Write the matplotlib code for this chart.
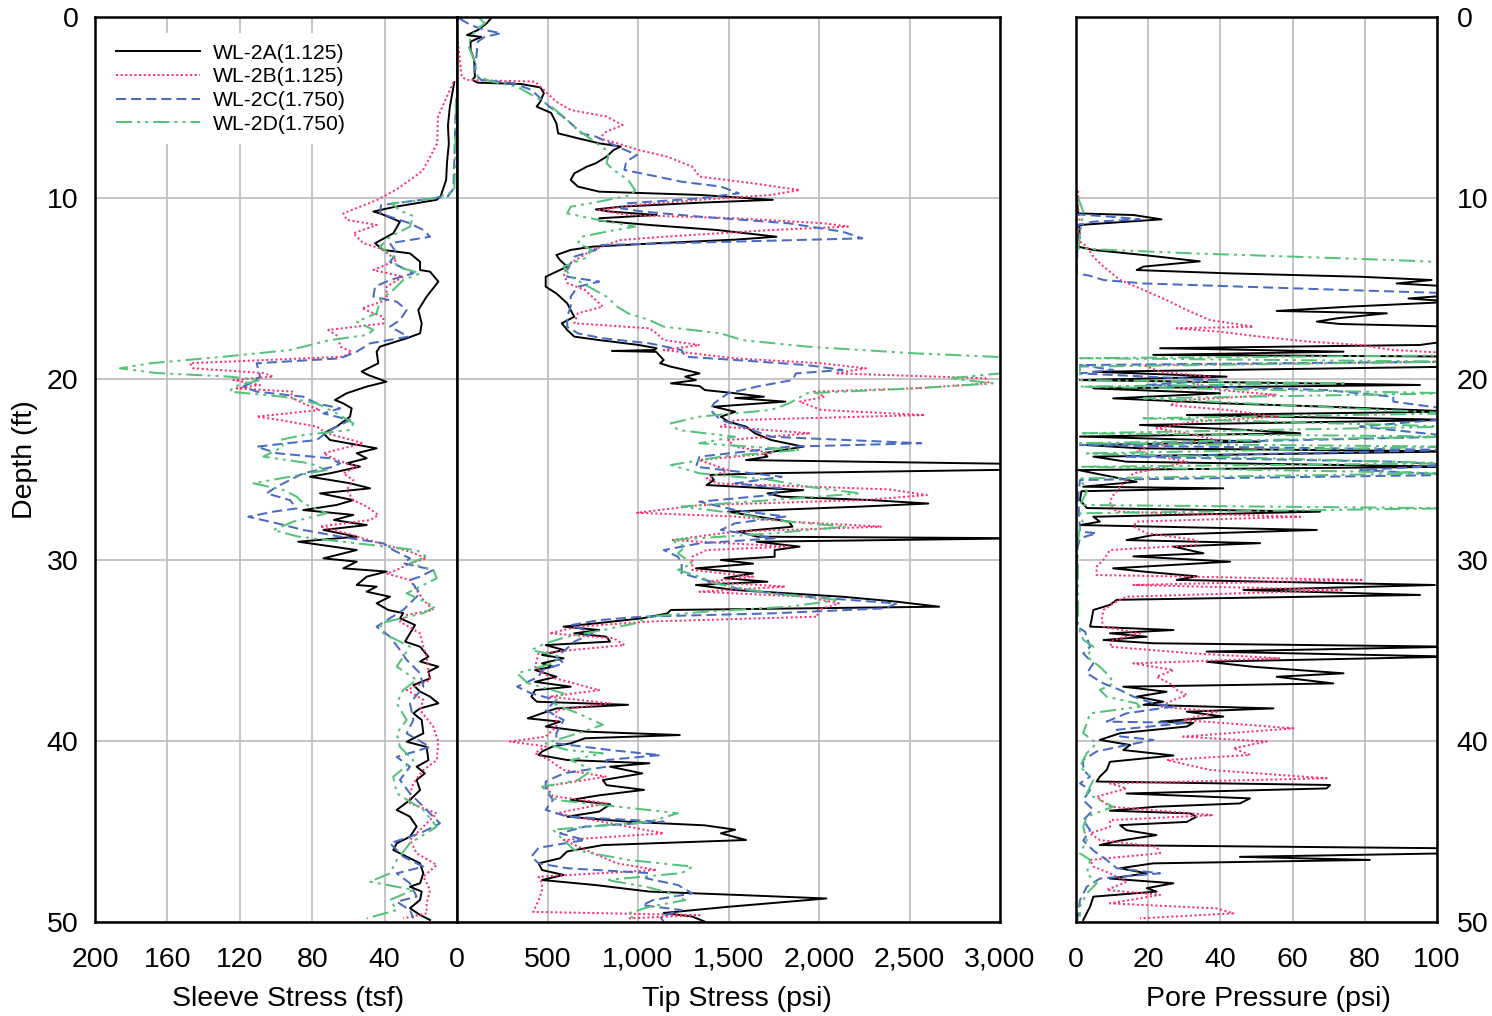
import matplotlib
matplotlib.use("Agg")
import matplotlib.pyplot as plt

plt.rcParams['font.family'] = ['Liberation Sans', 'DejaVu Sans']

series_names = ["WL-2A(1.125)", "WL-2B(1.125)", "WL-2C(1.750)", "WL-2D(1.750)"]

# ---------------- Sleeve stress (tsf): (depth ft, value) ----------------
sleeve_A = [(3.6,1.5),(5.0,4),(6.0,5),(7.0,4.5),(8.0,5.5),(9.0,6),(9.6,8),(9.9,9),(10.1,11.2),(10.5,35),(10.75,46.2),(10.85,42.5),(11.31,31.5),(11.95,35.2),(12.5,45.3),(12.87,40.7),(13.06,26),(13.52,20.4),(13.98,20.4),(14.07,14.9),(14.62,10.3),(15.45,16.8),(16.19,21.4),(16.93,19.5),(17.48,20.4),(17.75,27.8),(18.21,42.5),(18.49,44.4),(19.13,43.5),(19.59,52.7),(19.78,49),(20.15,39),(20.42,49.9),(20.79,61),(21.16,67.4),(21.35,62.8),(21.62,58.2),(22.08,59.1),(22.63,66.5),(23.0,73.8),(23.37,70.2),(23.83,44.4),(24.1,55.4),(24.38,49.9),(24.66,61),(24.84,53.6),(25.21,70.2),(25.4,81.2),(25.76,59.1),(26.04,48),(26.32,75.7),(26.69,57.3),(26.96,66.5),(27.24,84.9),(27.51,57.3),(27.79,68),(28.07,49.9),(28.34,73.8),(28.71,55.4),(28.99,87.7),(29.45,55.4),(29.91,73.8),(30.09,55.4),(30.46,62.8),(30.64,38.9),(30.92,49.9),(31.38,55.4),(31.47,44.4),(31.75,49.9),(32.03,37),(32.39,44.4),(32.76,38),(32.94,29.7),(33.22,31.5),(33.59,23.2),(34.51,28.7),(34.79,20.4),(35.34,15.8),(35.61,20.4),(35.89,10.3),(36.17,15.8),(36.54,14.9),(36.91,24.1),(37.27,20.4),(37.55,14.9),(37.92,10.3),(38.2,20.4),(38.47,24.1),(38.84,19.5),(39.58,18.6),(40.04,27.8),(40.33,16.8),(41.06,15.8),(41.42,22.3),(41.79,17.7),(42.15,22.3),(42.71,20.4),(43.26,26),(43.81,33.3),(44.18,26),(44.73,22.3),(45.29,26),(45.65,33.3),(46.02,35.2),(46.39,27.8),(46.76,20.4),(47.31,18.6),(47.86,20.4),(48.05,26),(48.32,19.5),(48.78,20.4),(49.24,26),(49.61,20.4),(49.89,14.9)]
sleeve_B = [(3.6,2),(5.5,10.5),(7.0,11),(8.5,19),(9.5,33),(10.1,44),(10.85,62.8),(11.2,61),(11.49,44.4),(11.95,57.3),(12.5,51.7),(12.78,42.5),(13.43,33.3),(13.98,46.2),(14.35,29.7),(14.9,38.9),(15.64,38.9),(16.1,52.7),(16.57,40.7),(16.93,40.7),(17.29,71.1),(17.66,65.5),(18.21,64.6),(18.49,58.2),(18.77,62.8),(19.13,147.5),(19.41,145.7),(19.67,107),(19.87,101.5),(20.06,123.6),(20.33,108.8),(20.52,121.7),(20.7,90.4),(20.98,92.3),(21.35,84.9),(21.71,75.7),(22.08,110.7),(22.27,97.8),(22.63,77.5),(23.0,72),(23.55,51.7),(24.1,73.8),(24.48,66.5),(24.84,55.4),(25.21,62.8),(25.58,57.3),(26.13,61),(26.69,57.3),(27.05,49.9),(27.51,43.5),(27.79,48),(28.15,75.7),(28.53,61),(29.08,42.5),(29.54,26),(29.91,16.8),(30.18,26),(30.55,33.3),(30.75,38.9),(31.1,26),(32.21,18.6),(32.76,13.1),(33.04,27.8),(33.41,31.5),(34.05,20.4),(34.79,18.6),(35.34,16.8),(36.08,15.8),(36.63,14.9),(37.18,27.8),(37.73,18.6),(38.29,20.4),(39.21,13.1),(40.04,10.3),(41.06,11.2),(41.6,18.6),(42.34,24.1),(42.89,26),(43.44,26),(44.0,11.2),(44.73,18.6),(45.47,26),(46.2,22.3),(46.85,11.2),(47.5,18.6),(48.23,14.9),(48.97,16.8),(49.52,16.8),(49.8,29.7)]
sleeve_C = [(4.5,0.5),(6,1),(8,1.5),(9.5,2),(9.9,5),(10.4,42),(10.85,42.5),(11.4,26),(11.77,18.6),(12.14,14.9),(12.5,37),(13.06,33.3),(13.52,37),(14.16,24.1),(14.53,37),(14.9,45.3),(15.45,46.2),(15.73,33.3),(16.19,27.8),(16.74,31.5),(17.11,37),(17.66,26.9),(18.03,48),(18.49,55.4),(18.86,64.6),(19.13,110.7),(19.87,108.8),(20.15,112.5),(20.42,118),(20.7,110.7),(20.98,84.9),(21.35,77.5),(21.62,64.6),(21.9,73.8),(22.27,59.1),(22.82,70.2),(23.37,77.5),(23.74,110.7),(24.1,99.6),(24.38,70.2),(24.66,64.6),(24.84,68),(25.21,84.9),(25.58,92.3),(25.95,99.6),(26.32,105.2),(26.69,92.3),(27.15,88.6),(27.33,101.5),(27.61,115.3),(27.97,99.6),(28.34,84.9),(28.71,64.6),(29.08,40.7),(29.45,35.2),(29.91,26),(30.18,29.7),(30.55,13.1),(30.92,20.4),(31.1,26),(31.84,20.4),(32.76,29.7),(33.68,44.4),(34.24,37),(34.97,31.5),(35.52,27.8),(36.26,20.4),(37.0,18.6),(37.92,26),(38.84,24.1),(39.58,27.8),(40.33,14.9),(40.88,33.3),(41.42,26),(42.15,31.5),(42.89,26),(44.0,14.9),(44.55,9.4),(45.1,20.4),(45.65,37),(46.39,29.7),(46.94,18.6),(47.31,33.3),(47.86,26),(48.6,22.3),(48.88,33.3),(49.34,26),(49.8,24.1)]
sleeve_D = [(4.5,0.5),(6,0.8),(8,1),(9.6,1.5),(10.0,11),(10.3,36),(10.7,31.5),(11.0,24.1),(11.58,26),(12.14,37),(12.69,42.5),(13.24,35.2),(13.79,33.3),(14.16,20.4),(14.53,29.7),(15.08,35.2),(15.64,42.5),(16.37,44.4),(16.83,55.4),(17.29,46.2),(17.57,49.9),(17.85,70.2),(18.4,92.3),(18.77,129.1),(19.13,169.6),(19.41,186.2),(19.67,166),(19.87,125.4),(20.06,108.8),(20.42,123.6),(20.7,125.4),(20.98,96),(21.35,77.5),(21.9,66.5),(22.45,57.3),(22.82,59.1),(23.09,84.9),(23.37,97.8),(23.74,96),(24.29,107),(24.66,81.2),(25.03,72),(25.4,92.3),(25.76,112.5),(26.13,96),(26.5,88.6),(26.87,84.9),(27.42,72),(27.88,90.4),(28.34,101.5),(28.71,87.7),(29.08,55.4),(29.45,22.3),(29.82,16.8),(30.18,26),(30.55,13.1),(31.01,11.2),(31.84,27.8),(32.58,12.2),(32.94,18.6),(33.5,42.5),(34.05,40.7),(34.79,26),(35.89,33.3),(36.63,22.3),(37.18,29.7),(37.92,33.3),(38.84,27.8),(39.58,33.3),(40.33,31.5),(41.06,24.1),(41.97,35.2),(42.89,33.3),(43.81,18.6),(44.73,11.2),(45.65,26),(46.57,33.3),(47.31,37),(47.77,48),(48.23,24.1),(48.78,37),(49.34,33.3),(49.8,49.9)]

# ---------------- Tip stress (psi): (depth ft, value) ----------------
tip_A = [(0.05,190),(0.35,164),(0.72,115),(1.0,55),(1.1,134),(1.36,75),(1.82,75),(2.38,95),(3.3,99),(3.48,85),(3.63,115),(3.7,352),(3.89,460),(4.2,480),(4.68,460),(4.95,440),(5.3,520),(5.87,549),(6.43,559),(6.7,668),(6.98,786),(7.16,905),(7.35,865),(7.72,826),(8.08,767),(8.27,717),(8.64,648),(9.0,628),(9.37,668),(9.65,786),(9.83,1340),(10.1,1745),(10.26,1340),(10.48,905),(10.63,767),(10.75,846),(10.94,1103),(11.12,786),(11.25,786),(11.49,1063),(11.77,1439),(12.14,1765),(12.3,1537),(12.5,1103),(12.69,747),(12.87,628),(13.15,549),(13.43,569),(13.79,609),(14.16,530),(14.35,490),(14.9,490),(15.27,549),(15.82,609),(16.19,628),(16.56,648),(16.92,579),(17.29,609),(17.66,648),(17.85,786),(18.12,1004),(18.3,1103),(18.4,1090),(18.45,856),(18.5,1100),(18.95,1142),(19.13,1122),(19.32,1182),(19.5,1261),(19.69,1340),(19.87,1261),(20.06,1320),(20.24,1182),(20.39,1340),(20.61,1369),(20.79,1537),(20.98,1695),(21.05,1537),(21.25,1814),(21.53,1419),(21.81,1537),(22.08,1458),(22.36,1498),(22.63,1597),(23.0,1646),(23.37,1735),(23.74,1913),(24.1,1695),(24.29,1715),(24.48,1597),(24.7,3150),(25.0,3150),(25.2,1750),(25.3,1399),(25.58,1419),(25.86,1379),(26.14,1913),(26.32,1715),(26.5,1794),(26.69,2288),(26.88,2604),(27.05,2229),(27.33,1498),(27.6,1656),(27.88,1834),(28.16,1853),(28.43,1557),(28.71,1656),(28.8,3150),(28.99,1656),(29.26,1893),(29.45,1755),(29.82,1755),(30.0,1458),(30.2,1636),(30.46,1320),(30.74,1636),(31.0,1478),(31.2,1715),(31.38,1320),(31.66,1537),(32.03,2130),(32.3,2427),(32.58,2664),(32.76,1182),(32.95,1162),(33.22,1024),(33.5,767),(33.68,589),(33.87,786),(34.05,648),(34.24,826),(34.51,846),(34.7,490),(34.97,589),(35.25,470),(35.43,589),(35.71,470),(35.9,530),(36.08,431),(36.45,549),(36.73,431),(37.0,628),(37.19,431),(37.55,411),(37.83,441),(38.0,945),(38.2,549),(38.47,470),(38.75,391),(38.93,569),(39.2,490),(39.48,707),(39.67,1231),(39.85,707),(40.13,628),(40.3,530),(40.58,470),(40.77,451),(41.05,609),(41.23,1063),(41.42,846),(41.79,1024),(42.16,806),(42.44,826),(42.7,1033),(43.0,786),(43.26,628),(43.5,846),(43.9,786),(44.18,609),(44.46,945),(44.66,1369),(44.9,1537),(45.1,1458),(45.47,1597),(45.75,806),(46.1,609),(46.48,569),(46.76,451),(47.13,470),(47.4,589),(47.68,470),(47.96,767),(48.32,1063),(48.5,1537),(48.7,2041),(49.16,1498),(49.5,1142),(49.7,1300),(49.98,1369)]
tip_B = [(0.1,6),(0.35,0),(1.5,6),(2.4,16),(3.3,26),(3.48,55),(3.57,431),(4.03,480),(4.68,549),(5.14,628),(5.5,826),(5.97,915),(6.33,826),(6.7,786),(6.98,885),(7.35,1004),(7.72,1162),(8.27,1300),(8.82,1340),(9.19,1636),(9.56,1893),(9.83,1735),(10.1,1340),(10.39,984),(10.66,786),(10.94,945),(11.12,1537),(11.4,2031),(11.58,2160),(11.77,1735),(12.14,1142),(12.32,905),(12.87,747),(13.6,628),(14.16,589),(14.7,609),(15.08,707),(15.64,767),(16.0,806),(16.37,668),(16.92,648),(17.2,1063),(17.48,1103),(17.85,1142),(18.12,1340),(18.4,1142),(18.49,1221),(18.86,1537),(19.13,2012),(19.41,2259),(19.69,2091),(19.96,2920),(20.24,2940),(20.52,2525),(20.7,1972),(20.98,2031),(21.25,1893),(21.71,2012),(21.99,2585),(22.27,1537),(22.63,1458),(23.0,1952),(23.37,1498),(23.74,1537),(24.1,1735),(24.48,1340),(25.04,1498),(25.5,1379),(25.77,1439),(26.1,2387),(26.41,2596),(26.69,2249),(26.97,1340),(27.39,994),(27.6,1537),(27.88,1834),(28.16,2347),(28.43,1537),(28.9,1182),(29.26,1834),(29.45,1379),(29.82,1300),(30.2,1300),(30.55,1300),(30.92,1636),(31.2,1379),(31.47,1814),(31.75,1340),(32.03,1933),(32.4,2110),(32.76,1992),(33.13,1992),(33.4,1063),(33.68,668),(34.05,510),(34.32,865),(34.7,925),(35.15,451),(35.9,431),(36.45,510),(37.19,786),(37.55,510),(37.92,846),(38.29,549),(39.2,549),(39.76,490),(40.03,292),(40.3,490),(40.67,431),(41.05,510),(41.6,589),(41.97,826),(42.5,490),(43.05,530),(43.44,826),(43.99,549),(44.36,747),(45.1,1142),(45.47,589),(46.0,707),(46.76,885),(47.13,1103),(47.5,451),(47.87,470),(48.23,470),(48.8,451),(49.44,421),(49.62,1340),(49.8,945)]
tip_C = [(0.1,16),(0.44,75),(0.72,154),(0.9,243),(1.09,154),(1.36,115),(2.38,105),(3.11,95),(3.48,134),(3.66,312),(4.03,411),(4.4,451),(4.95,510),(5.69,609),(6.43,688),(6.61,767),(7.16,885),(7.62,994),(7.99,935),(8.45,925),(8.73,1063),(9.1,1241),(9.37,1458),(9.74,1557),(10.02,1340),(10.29,945),(10.57,905),(10.75,1024),(11.03,1340),(11.4,1834),(11.86,2130),(12.23,2239),(12.41,1537),(12.6,786),(12.87,767),(13.24,648),(13.98,609),(14.35,609),(14.62,786),(14.9,668),(15.45,628),(16.0,628),(16.56,609),(17.11,609),(17.48,668),(17.75,806),(18.03,1063),(18.4,1241),(18.77,1261),(18.95,1537),(19.23,1933),(19.5,2130),(19.69,1873),(20.06,1853),(20.42,1656),(20.79,1498),(21.35,1419),(21.71,1399),(22.27,1458),(22.63,1577),(23.19,1735),(23.55,2565),(23.74,1834),(24.29,1340),(24.85,1320),(25.4,1794),(25.77,1537),(26.04,1794),(26.41,1735),(26.78,1340),(27.24,1537),(27.6,1814),(27.97,1537),(28.34,1458),(28.8,1755),(29.08,1340),(29.45,1142),(29.82,1221),(30.2,1241),(30.74,1241),(31.29,1439),(31.66,1577),(32.03,1933),(32.4,2427),(32.67,2367),(32.95,1735),(33.13,1024),(33.32,786),(33.6,628),(33.87,707),(34.05,747),(34.51,648),(34.88,609),(35.34,549),(35.71,589),(36.08,470),(36.45,451),(37.0,332),(37.37,411),(37.74,549),(38.29,490),(38.84,589),(39.57,549),(40.13,549),(40.5,846),(40.78,1122),(41.05,826),(41.42,826),(41.79,589),(42.24,490),(42.7,490),(43.26,530),(43.8,490),(44.18,609),(44.46,1142),(44.73,707),(45.1,569),(45.47,707),(45.9,451),(46.39,411),(46.76,451),(47.03,609),(47.3,1063),(47.58,1043),(47.96,1221),(48.42,1300),(48.79,1083),(49.07,1024),(49.34,1241),(49.7,1122),(49.98,1142)]
tip_D = [(0.07,124),(0.35,154),(0.63,115),(1.09,75),(1.64,65),(2.38,95),(3.3,115),(3.57,194),(3.85,332),(4.4,431),(4.95,520),(5.5,589),(6.24,668),(6.8,747),(7.35,826),(7.72,836),(8.08,826),(8.45,865),(9.0,945),(9.56,984),(9.83,964),(10.2,786),(10.48,628),(10.85,609),(11.22,786),(11.58,984),(11.86,826),(12.14,688),(12.5,668),(12.87,747),(13.33,707),(13.79,589),(14.35,628),(14.9,727),(15.45,826),(16.0,885),(16.37,945),(16.74,1063),(17.11,1142),(17.48,1458),(17.85,1577),(18.21,1933),(18.58,2525),(18.85,3150),(19.13,3150),(19.69,3000),(19.96,2723),(20.24,2960),(20.52,2525),(20.79,1933),(21.35,1834),(21.71,1735),(22.08,1340),(22.45,1182),(22.82,1221),(23.19,1537),(23.55,1340),(23.92,1893),(24.29,1458),(24.75,1182),(25.21,1340),(25.58,1735),(25.95,1933),(26.32,2229),(26.69,1735),(27.05,1241),(27.42,1537),(27.79,1735),(28.16,2150),(28.53,1735),(28.9,1182),(29.26,1261),(29.63,1221),(30.2,1300),(30.55,1221),(30.92,1340),(31.29,1419),(31.84,1735),(32.21,2110),(32.58,1834),(32.85,1379),(33.13,1063),(33.5,984),(33.87,806),(34.24,609),(34.6,490),(34.97,411),(35.34,569),(35.71,530),(36.26,332),(36.8,391),(37.37,589),(37.92,530),(38.47,668),(39.1,806),(39.57,668),(40.13,490),(40.5,609),(40.68,806),(41.05,628),(41.6,747),(42.16,668),(42.53,470),(43.26,549),(43.99,1221),(44.46,1063),(44.9,530),(45.47,589),(46.02,648),(46.57,945),(46.94,1300),(47.3,1241),(47.68,826),(48.05,1043),(48.42,1182),(48.79,1261),(49.16,1063),(49.53,945),(49.89,984)]

# ---------------- Pore pressure (psi): (depth ft, value) ----------------
pore_A = [(10.0,0.2),(10.85,0.6),(10.94,15.9),(11.18,23.7),(11.31,14),(11.49,1.1),(12.69,0.6),(12.87,4.8),(13.15,18.7),(13.5,34.3),(13.79,18.7),(13.98,16.8),(14.16,41.7),(14.35,78.7),(14.53,98.5),(14.72,88.8),(14.9,105),(15.36,105),(15.55,92.1),(15.73,105),(16.0,75.9),(16.24,55.6),(16.37,86.1),(16.65,72.2),(16.83,66.7),(16.96,73.1),(17.11,105),(17.85,105),(18.12,95.3),(18.3,23.3),(18.49,74.1),(18.67,21.4),(18.76,105),(19.32,105),(19.6,4.8),(19.87,41.7),(20.06,1.1),(20.33,95.3),(20.52,4.8),(20.79,39.9),(21.07,10.3),(21.34,39.9),(21.53,69.4),(21.8,105),(21.99,30.7),(22.26,105),(22.54,17.7),(22.82,47.3),(23.0,62.1),(23.18,1.1),(23.46,51),(23.65,3),(23.83,17.7),(24.0,105),(24.29,4.8),(24.57,14),(24.85,105),(25.03,0.6),(25.49,12.2),(25.68,16.8),(25.95,2),(26.04,40.8),(26.2,1.5),(26.68,1.1),(27.13,3),(27.33,67.6),(27.61,4.8),(27.88,6.6),(28.07,1.1),(28.34,66.7),(28.62,21.4),(28.9,14),(29.07,51),(29.26,27),(29.63,35.3),(29.8,15.9),(30.09,42.7),(30.46,10.3),(30.64,18.7),(30.9,33.4),(31.1,27.9),(31.38,99.4),(31.66,46.4),(31.93,95.3),(32.2,11.3),(32.48,9.4),(32.76,4.8),(33.3,4.3),(33.68,3.9),(33.87,27),(34.05,9.4),(34.24,19.6),(34.42,7.6),(34.6,21.4),(34.79,105),(35.06,36.2),(35.34,105),(35.62,36.2),(35.9,49.1),(36.26,74.1),(36.45,55.6),(36.82,71.3),(37.0,13.1),(37.28,25.1),(37.55,16.8),(37.83,24.2),(38.0,18.7),(38.2,54.7),(38.38,30.7),(38.65,40.8),(38.93,23.3),(39.0,32.5),(39.2,30.7),(39.57,12.2),(39.94,6.6),(40.22,15),(40.5,13.1),(40.8,27),(41.15,9.4),(41.6,8.5),(41.97,6.6),(42.24,5.7),(42.43,70.4),(42.62,69.4),(42.9,14),(43.17,48.2),(43.45,45.4),(43.63,22.3),(43.85,9.4),(44.0,31.6),(44.18,33.4),(44.47,30.7),(44.65,12.2),(44.93,14),(45.2,22.3),(45.5,12.2),(45.75,6.6),(45.93,105),(46.2,105),(46.4,45.4),(46.57,81.4),(46.76,21.4),(47.03,12.2),(47.31,19.6),(47.6,9.4),(47.86,27),(48.13,19.6),(48.32,22.3),(48.6,4.8),(49.15,3.9),(49.89,2)]
pore_B = [(9.6,0.6),(10.5,0.6),(11.5,1.1),(12.41,1.1),(12.69,3),(13.24,4.8),(13.79,7.6),(14.53,12.2),(15.08,18.7),(15.64,25.1),(16.19,30.7),(16.74,37.1),(17.11,49.1),(17.2,27.9),(17.39,39.9),(17.66,51),(17.94,64.8),(18.12,78.7),(18.4,87.9),(18.58,105),(19.04,105),(19.23,18.7),(19.6,23.3),(19.87,37.1),(20.24,32.5),(20.61,39.9),(20.88,55.6),(21.16,29.7),(21.44,26),(21.71,41.7),(22.08,55.6),(22.36,32.5),(22.72,22.3),(23.0,30.7),(23.37,39),(23.74,19.6),(24.0,16.8),(24.29,23.3),(24.57,30.7),(24.85,25.1),(25.21,15.9),(25.58,14),(25.95,12.2),(26.22,11.3),(26.5,9.9),(26.96,9.4),(27.33,11.3),(27.61,62.1),(27.88,16.8),(28.15,15.9),(28.52,19.6),(28.9,33.4),(29.17,33.4),(29.45,9.4),(30.0,7.6),(30.37,5.7),(30.83,5.7),(31.1,79.6),(31.38,15.9),(31.66,74.1),(32.03,14),(32.4,10.3),(32.76,7.6),(33.3,7.1),(33.68,7.6),(34.05,17.7),(34.42,10.3),(34.79,9.4),(35.16,32.5),(35.43,56.5),(35.71,15.9),(36.08,27),(36.45,22.3),(36.82,26),(37.18,27.9),(37.46,30.7),(37.74,27),(38.1,23.3),(38.38,39),(38.84,29.7),(39.3,60.2),(39.76,29.7),(40.03,52.8),(40.4,43.6),(40.77,48.2),(41.05,25.1),(41.6,37.1),(42.06,69.4),(42.34,9.4),(42.62,14),(43.08,5.7),(43.63,9.4),(44.1,38),(44.37,9.4),(44.74,9.4),(45.1,3.9),(45.47,6.6),(45.84,22.3),(46.2,23.3),(46.57,3.9),(46.94,4.8),(47.31,9.4),(47.78,14),(48.23,8.5),(48.5,23.3),(48.97,9.4),(49.25,39),(49.52,43.6),(49.8,17.7)]
pore_C = [(10.0,0.2),(10.9,0.2),(11.03,9.4),(11.18,17.7),(11.31,4.8),(11.49,0.6),(14.16,0.2),(14.3,3.9),(14.53,7.6),(14.72,18.7),(14.9,46.4),(15.08,74.1),(15.27,105),(18.9,105),(19.04,105),(19.23,1.1),(19.5,10.3),(19.69,1.1),(20.06,39.9),(20.33,19.6),(20.61,69.4),(20.98,87.9),(21.25,87.9),(21.71,105),(22.17,105),(22.63,78.7),(23.18,105),(23.65,1.1),(23.92,105),(24.29,14),(24.57,87.9),(24.75,105),(25.03,78.7),(25.3,105),(25.58,1.1),(26.5,0.6),(28.43,1.1),(28.52,5.7),(28.8,1.1),(29.5,0.2),(33.68,0.2),(33.96,2.5),(34.79,3.9),(35.16,2),(35.71,4.8),(36.26,3),(36.82,7.6),(37.18,12.2),(37.55,15.9),(37.92,21.4),(38.1,27),(38.47,14),(38.93,8.5),(39.0,30.7),(39.38,11.3),(39.75,12.2),(39.94,21.4),(40.3,12.2),(40.58,5.7),(41.05,2),(41.6,2),(41.97,3.9),(42.34,1.1),(42.71,3.9),(43.26,2),(43.81,4.8),(44.37,2),(44.93,3.9),(45.5,2),(46.05,4.8),(46.57,8.5),(47.03,11.3),(47.31,23.3),(47.6,6.6),(48.05,3),(48.78,1.1),(49.52,0.6),(49.95,0.3)]
pore_D = [(10.0,0.6),(10.75,2),(12.78,0.6),(12.87,9.4),(13.06,32.5),(13.24,60.2),(13.43,87.9),(13.57,105),(18.7,105),(18.85,1.1),(19.04,105),(19.32,1.1),(20.06,1.1),(20.24,75),(20.42,1.1),(20.79,105),(21.07,18.7),(21.9,105),(22.17,18.7),(22.63,105),(23.0,1.1),(23.18,105),(23.55,1.1),(23.74,105),(24.11,3),(24.66,105),(24.85,1.1),(25.21,105),(25.49,1.1),(26.22,3),(26.96,1.1),(27.14,105),(27.42,1.1),(27.97,2),(28.16,1.1),(29.0,0.5),(33.7,0.6),(34.4,2),(34.79,4.8),(35.34,3),(35.9,6.6),(36.45,9.4),(36.82,10.3),(37.18,6.6),(37.55,8.5),(37.92,16.8),(38.1,17.7),(38.47,3.9),(39.0,3),(39.57,2),(40.12,5.7),(40.67,3),(41.41,1.1),(42.15,4.8),(42.9,3),(43.63,10.3),(44.18,3),(44.74,2),(45.5,3),(46.2,1.1),(46.57,3.9),(47.31,3),(47.86,5.7),(48.42,3),(49.15,1.1),(49.7,1.1)]

depth_ticks = [0, 10, 20, 30, 40, 50]
sleeve_ticks = [200, 160, 120, 80, 40, 0]
tip_ticks = [0, 500, 1000, 1500, 2000, 2500, 3000]
pore_ticks = [0, 20, 40, 60, 80, 100]

colors = ["#000000", "#FF2D6B", "#4A6BC4", "#55C27A"]
styles = ['-', (0, (1.0, 1.3)), (0, (5, 2.5)), (0, (8, 2.5, 1.5, 2.5, 1.5, 2.5))]
widths = [1.4, 1.45, 1.45, 1.45]

W, H = 1492, 1016
fig = plt.figure(figsize=(W / 100, H / 100), dpi=100)

def rect(x0, x1, y0, y1):
    return [x0 / W, 1 - y1 / H, (x1 - x0) / W, (y1 - y0) / H]

ax1 = fig.add_axes(rect(95, 457, 17, 922))
ax2 = fig.add_axes(rect(457, 1000, 17, 922))
ax3 = fig.add_axes(rect(1076, 1437, 17, 922))

FS = 20.5
grid_kw = dict(color="#C0C0C0", lw=1.3)

def plot_series(ax, data_list):
    lines = []
    for data, c, ls, lw, name in zip(data_list, colors, styles, widths, series_names):
        d = [p[0] for p in data]
        v = [p[1] for p in data]
        ln, = ax.plot(v, d, color=c, ls=ls, lw=lw, label=name)
        lines.append(ln)
    return lines

lines = plot_series(ax1, [sleeve_A, sleeve_B, sleeve_C, sleeve_D])
plot_series(ax2, [tip_A, tip_B, tip_C, tip_D])
plot_series(ax3, [pore_A, pore_B, pore_C, pore_D])

for ax in (ax1, ax2, ax3):
    ax.set_ylim(50, 0)
    ax.set_yticks(depth_ticks)
    ax.grid(True, **grid_kw)
    ax.set_axisbelow(True)
    for s in ax.spines.values():
        s.set_linewidth(1.8)
        s.set_color("black")
        s.set_zorder(10)
    ax.tick_params(length=0, labelsize=FS)
    ax.tick_params(axis='x', pad=18)

ax1.set_xlim(200, 0)
ax1.set_xticks(sleeve_ticks)
ax1.set_xticklabels([str(t) if t != 0 else "" for t in sleeve_ticks])
ax1.set_yticklabels([str(t) for t in depth_ticks])
ax1.tick_params(axis='y', pad=12)

ax2.set_xlim(0, 3000)
ax2.set_xticks(tip_ticks)
ax2.set_xticklabels([f"{t:,}" for t in tip_ticks])
ax2.set_yticklabels([])

ax3.set_xlim(0, 100)
ax3.set_xticks(pore_ticks)
ax3.set_xticklabels([str(t) for t in pore_ticks])
ax3.yaxis.tick_right()
ax3.set_yticklabels([str(t) for t in depth_ticks])
ax3.tick_params(axis='y', pad=14)

fig.text(25 / W, 1 - 460 / H, "Depth (ft)", rotation=90, ha='center', va='center', fontsize=FS)
fig.text(288 / W, 1 - 999 / H, "Sleeve Stress (tsf)", ha='center', va='center', fontsize=FS)
fig.text(737 / W, 1 - 999 / H, "Tip Stress (psi)", ha='center', va='center', fontsize=FS)
fig.text(1268 / W, 1 - 999 / H, "Pore Pressure (psi)", ha='center', va='center', fontsize=FS)

leg = ax1.legend(handles=lines, loc='upper left', bbox_to_anchor=(0.028, 0.982),
                 fontsize=15.2, frameon=True, fancybox=False, framealpha=1,
                 facecolor='white', edgecolor='white', handlelength=4.0,
                 handletextpad=0.6, labelspacing=0.22, borderpad=0.5,
                 borderaxespad=0.0)
leg.get_frame().set_linewidth(0)

fig.savefig("out.png", dpi=100)
